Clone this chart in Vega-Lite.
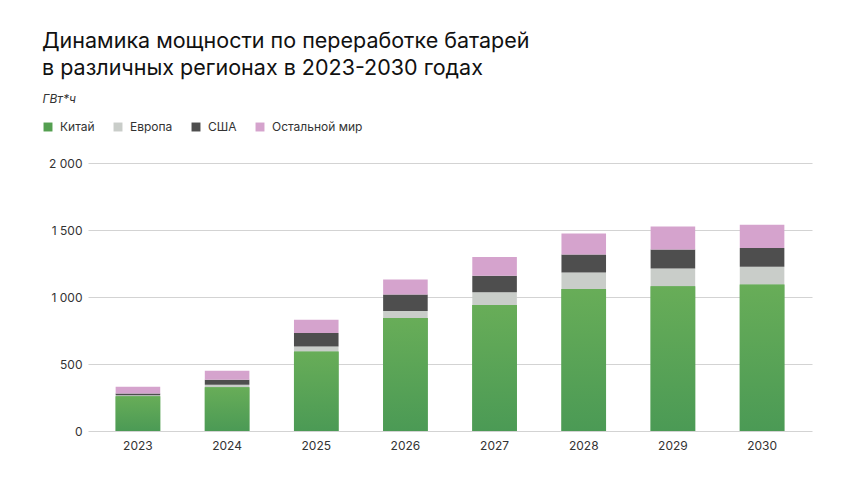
{
  "$schema": "https://vega.github.io/schema/vega-lite/v6.json",
  "width": 724,
  "height": 268,
  "autosize": {"type": "none"},
  "padding": {"left": 88, "top": 163, "right": 48, "bottom": 53},
  "background": "white",
  "config": {
    "font": "Inter",
    "view": {"stroke": null},
    "title": {"font": "Inter", "fontWeight": 400, "color": "#111111"}
  },
  "title": {
    "text": ["Динамика мощности по переработке батарей", "в различных регионах в 2023-2030 годах"],
    "anchor": "start",
    "frame": "group",
    "fontSize": 21.5,
    "lineHeight": 27,
    "dx": -46,
    "offset": 13
  },
  "data": {
    "values": [
      {"year": "2023", "region": "Китай", "value": 260},
      {"year": "2023", "region": "Европа", "value": 7},
      {"year": "2023", "region": "США", "value": 13},
      {"year": "2023", "region": "Остальной мир", "value": 50},
      {"year": "2024", "region": "Китай", "value": 327},
      {"year": "2024", "region": "Европа", "value": 18},
      {"year": "2024", "region": "США", "value": 37},
      {"year": "2024", "region": "Остальной мир", "value": 68},
      {"year": "2025", "region": "Китай", "value": 594},
      {"year": "2025", "region": "Европа", "value": 37},
      {"year": "2025", "region": "США", "value": 100},
      {"year": "2025", "region": "Остальной мир", "value": 100},
      {"year": "2026", "region": "Китай", "value": 843},
      {"year": "2026", "region": "Европа", "value": 53},
      {"year": "2026", "region": "США", "value": 122},
      {"year": "2026", "region": "Остальной мир", "value": 112},
      {"year": "2027", "region": "Китай", "value": 941},
      {"year": "2027", "region": "Европа", "value": 95},
      {"year": "2027", "region": "США", "value": 122},
      {"year": "2027", "region": "Остальной мир", "value": 140},
      {"year": "2028", "region": "Китай", "value": 1060},
      {"year": "2028", "region": "Европа", "value": 122},
      {"year": "2028", "region": "США", "value": 135},
      {"year": "2028", "region": "Остальной мир", "value": 157},
      {"year": "2029", "region": "Китай", "value": 1080},
      {"year": "2029", "region": "Европа", "value": 133},
      {"year": "2029", "region": "США", "value": 142},
      {"year": "2029", "region": "Остальной мир", "value": 172},
      {"year": "2030", "region": "Китай", "value": 1093},
      {"year": "2030", "region": "Европа", "value": 132},
      {"year": "2030", "region": "США", "value": 140},
      {"year": "2030", "region": "Остальной мир", "value": 174}
    ]
  },
  "transform": [
    {"calculate": "indexof(['Китай', 'Европа', 'США', 'Остальной мир'], datum.region)", "as": "stackOrder"}
  ],
  "encoding": {
    "x": {
      "field": "year",
      "type": "nominal",
      "scale": {"paddingInner": 0.5, "paddingOuter": 0.31},
      "axis": {
        "title": null,
        "labelAngle": 0,
        "ticks": false,
        "domain": false,
        "labelPadding": 9,
        "labelFontSize": 12,
        "labelColor": "#333333",
        "labelFont": "Inter"
      }
    },
    "y": {
      "field": "value",
      "type": "quantitative",
      "scale": {"domain": [0, 2000]},
      "axis": {
        "values": [0, 500, 1000, 1500, 2000],
        "ticks": false,
        "domain": false,
        "gridColor": "#d3d3d3",
        "gridWidth": 1,
        "labelPadding": 6,
        "labelFontSize": 12,
        "labelColor": "#333333",
        "labelFont": "Inter",
        "labelExpr": "replace(format(datum.value, ','), ',', ' ')",
        "title": "ГВт*ч",
        "titleAngle": 0,
        "titleAlign": "left",
        "titleBaseline": "middle",
        "titleX": -46,
        "titleY": -65,
        "titleFontSize": 12,
        "titleFontStyle": "italic",
        "titleFontWeight": "normal",
        "titleColor": "#333333",
        "titleFont": "Inter"
      }
    }
  },
  "layer": [
    {
      "mark": {"type": "bar"},
      "encoding": {
        "order": {"field": "stackOrder", "type": "quantitative", "sort": "ascending"},
        "color": {
          "field": "region",
          "type": "nominal",
          "sort": ["Китай", "Европа", "США", "Остальной мир"],
          "scale": {
            "domain": ["Китай", "Европа", "США", "Остальной мир"],
            "range": ["#549f50", "#c9cdc9", "#4e4e4e", "#d5a3cd"]
          },
          "legend": {
            "title": null,
            "orient": "none",
            "direction": "horizontal",
            "legendX": -46,
            "legendY": -42,
            "symbolType": "square",
            "symbolSize": 80,
            "symbolStrokeWidth": 0,
            "labelFontSize": 12,
            "labelColor": "#333333",
            "labelFont": "Inter",
            "labelOffset": 6,
            "columnPadding": 17
          }
        }
      }
    },
    {
      "transform": [{"filter": "datum.region === 'Китай'"}],
      "mark": {
        "type": "bar",
        "color": {
          "gradient": "linear",
          "x1": 0, "y1": 0, "x2": 0, "y2": 1,
          "stops": [
            {"offset": 0, "color": "#68ad58"},
            {"offset": 1, "color": "#4b9a55"}
          ]
        }
      }
    }
  ]
}
